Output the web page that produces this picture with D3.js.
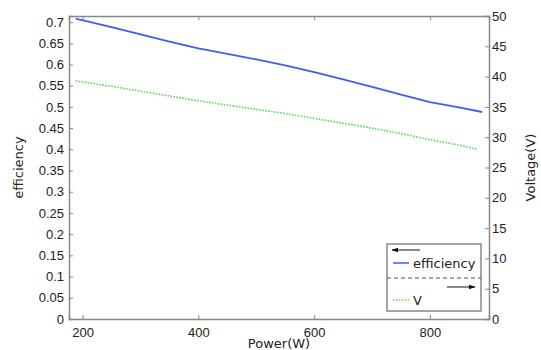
<!DOCTYPE html>
<html>
<head>
<meta charset="utf-8">
<script src="https://cdn.jsdelivr.net/npm/d3@7"></script>
<style>
  html, body { margin: 0; padding: 0; background: #fff; }
  svg { display: block; font-family: "DejaVu Sans", sans-serif; }
</style>
</head>
<body>
<div id="chart"></div>
<script>
// Data
const power = [188, 250, 300, 350, 400, 450, 500, 550, 600, 650, 700, 750, 800, 850, 890];
const efficiency = [0.708, 0.688, 0.671, 0.654, 0.638, 0.625, 0.612, 0.598, 0.582, 0.565, 0.547, 0.529, 0.511, 0.499, 0.488];
const voltagePower = [188, 250, 300, 350, 400, 450, 500, 550, 600, 650, 700, 750, 800, 850, 882];
const voltage = [39.3, 38.4, 37.6, 36.8, 36.0, 35.3, 34.6, 33.9, 33.1, 32.3, 31.5, 30.6, 29.6, 28.7, 28.0];
const xTicks = [200, 400, 600, 800];
const leftTicks = [0, 0.05, 0.1, 0.15, 0.2, 0.25, 0.3, 0.35, 0.4, 0.45, 0.5, 0.55, 0.6, 0.65, 0.7];
const rightTicks = [0, 5, 10, 15, 20, 25, 30, 35, 40, 45, 50];

const width = 541, height = 350;
const plot = { left: 69, right: 489, top: 16, bottom: 319 };
const axisColor = "#888";
const textColor = "#222";

const svg = d3.select("#chart").append("svg")
  .attr("width", width)
  .attr("height", height);

const x = d3.scaleLinear().domain([176.5, 902]).range([plot.left, plot.right]);
const yL = d3.scaleLinear().domain([0, 0.7143]).range([plot.bottom, plot.top]);
const yR = d3.scaleLinear().domain([0, 50]).range([plot.bottom, plot.top]);

function styleAxis(g) {
  g.select(".domain").attr("stroke", axisColor).attr("stroke-width", 1.5);
  g.selectAll(".tick line").attr("stroke", axisColor);
  g.selectAll(".tick text").attr("fill", textColor).attr("font-size", 13);
}

// Bottom axis
svg.append("g")
  .attr("transform", `translate(0,${plot.bottom})`)
  .call(d3.axisBottom(x).tickValues(xTicks).tickSize(-4).tickPadding(9))
  .call(styleAxis);

// Top axis (ticks only)
svg.append("g")
  .attr("transform", `translate(0,${plot.top})`)
  .call(d3.axisTop(x).tickValues(xTicks).tickSize(-4).tickFormat(""))
  .call(styleAxis);

// Left axis
svg.append("g")
  .attr("transform", `translate(${plot.left},0)`)
  .call(d3.axisLeft(yL).tickValues(leftTicks).tickSize(-4).tickPadding(5)
    .tickFormat((d) => String(+d.toFixed(2))))
  .call(styleAxis);

// Right axis
svg.append("g")
  .attr("transform", `translate(${plot.right},0)`)
  .call(d3.axisRight(yR).tickValues(rightTicks).tickSize(-4).tickPadding(3))
  .call(styleAxis);

// Axis titles
svg.append("text")
  .attr("x", (plot.left + plot.right) / 2)
  .attr("y", 348)
  .attr("text-anchor", "middle")
  .attr("font-size", 13)
  .attr("fill", textColor)
  .text("Power(W)");

svg.append("text")
  .attr("transform", `translate(23,${(plot.top + plot.bottom) / 2}) rotate(-90)`)
  .attr("text-anchor", "middle")
  .attr("font-size", 13)
  .attr("fill", textColor)
  .text("efficiency");

svg.append("text")
  .attr("transform", `translate(535,${(plot.top + plot.bottom) / 2}) rotate(-90)`)
  .attr("text-anchor", "middle")
  .attr("font-size", 13)
  .attr("fill", textColor)
  .text("Voltage(V)");

// Lines
const effLine = d3.line()
  .x((d, i) => x(power[i]))
  .y((d) => yL(d));

const vLine = d3.line()
  .x((d, i) => x(voltagePower[i]))
  .y((d) => yR(d));

svg.append("path")
  .datum(efficiency)
  .attr("d", effLine)
  .attr("fill", "none")
  .attr("stroke", "#3f5cf5")
  .attr("stroke-width", 1.8);

svg.append("path")
  .datum(voltage)
  .attr("d", vLine)
  .attr("fill", "none")
  .attr("stroke", "#5fd35f")
  .attr("stroke-width", 1.6)
  .attr("stroke-dasharray", "1.6,1.4");

// Legend
const legend = svg.append("g").attr("transform", "translate(387,244)");
const lw = 94, lh = 67;

legend.append("rect")
  .attr("width", lw)
  .attr("height", lh)
  .attr("fill", "#fff")
  .attr("stroke", axisColor)
  .attr("stroke-width", 1.5);

const defs = svg.append("defs");
defs.append("marker")
  .attr("id", "arrow")
  .attr("viewBox", "0 0 10 10")
  .attr("refX", 9).attr("refY", 5)
  .attr("markerWidth", 7).attr("markerHeight", 7)
  .attr("orient", "auto-start-reverse")
  .append("path")
  .attr("d", "M0,1.5 L10,5 L0,8.5 Z")
  .attr("fill", "#111");

// left-pointing arrow for efficiency
legend.append("line")
  .attr("x1", 33).attr("x2", 5).attr("y1", 6).attr("y2", 6)
  .attr("stroke", "#111").attr("stroke-width", 1)
  .attr("marker-end", "url(#arrow)");

legend.append("line")
  .attr("x1", 6).attr("x2", 22).attr("y1", 19).attr("y2", 19)
  .attr("stroke", "#3f5cf5").attr("stroke-width", 1.5);

legend.append("text")
  .attr("x", 26).attr("y", 23.5)
  .attr("font-size", 13).attr("fill", textColor)
  .text("efficiency");

legend.append("line")
  .attr("x1", 0).attr("x2", lw).attr("y1", 34).attr("y2", 34)
  .attr("stroke", "#555").attr("stroke-width", 1)
  .attr("stroke-dasharray", "4,3");

// right-pointing arrow for V
legend.append("line")
  .attr("x1", 60).attr("x2", 88).attr("y1", 43).attr("y2", 43)
  .attr("stroke", "#111").attr("stroke-width", 1)
  .attr("marker-end", "url(#arrow)");

legend.append("line")
  .attr("x1", 6).attr("x2", 22).attr("y1", 56).attr("y2", 56)
  .attr("stroke", "#5fd35f").attr("stroke-width", 1.5)
  .attr("stroke-dasharray", "1.5,1.5");

legend.append("text")
  .attr("x", 26).attr("y", 61)
  .attr("font-size", 13).attr("fill", textColor)
  .text("V");
</script>
</body>
</html>
